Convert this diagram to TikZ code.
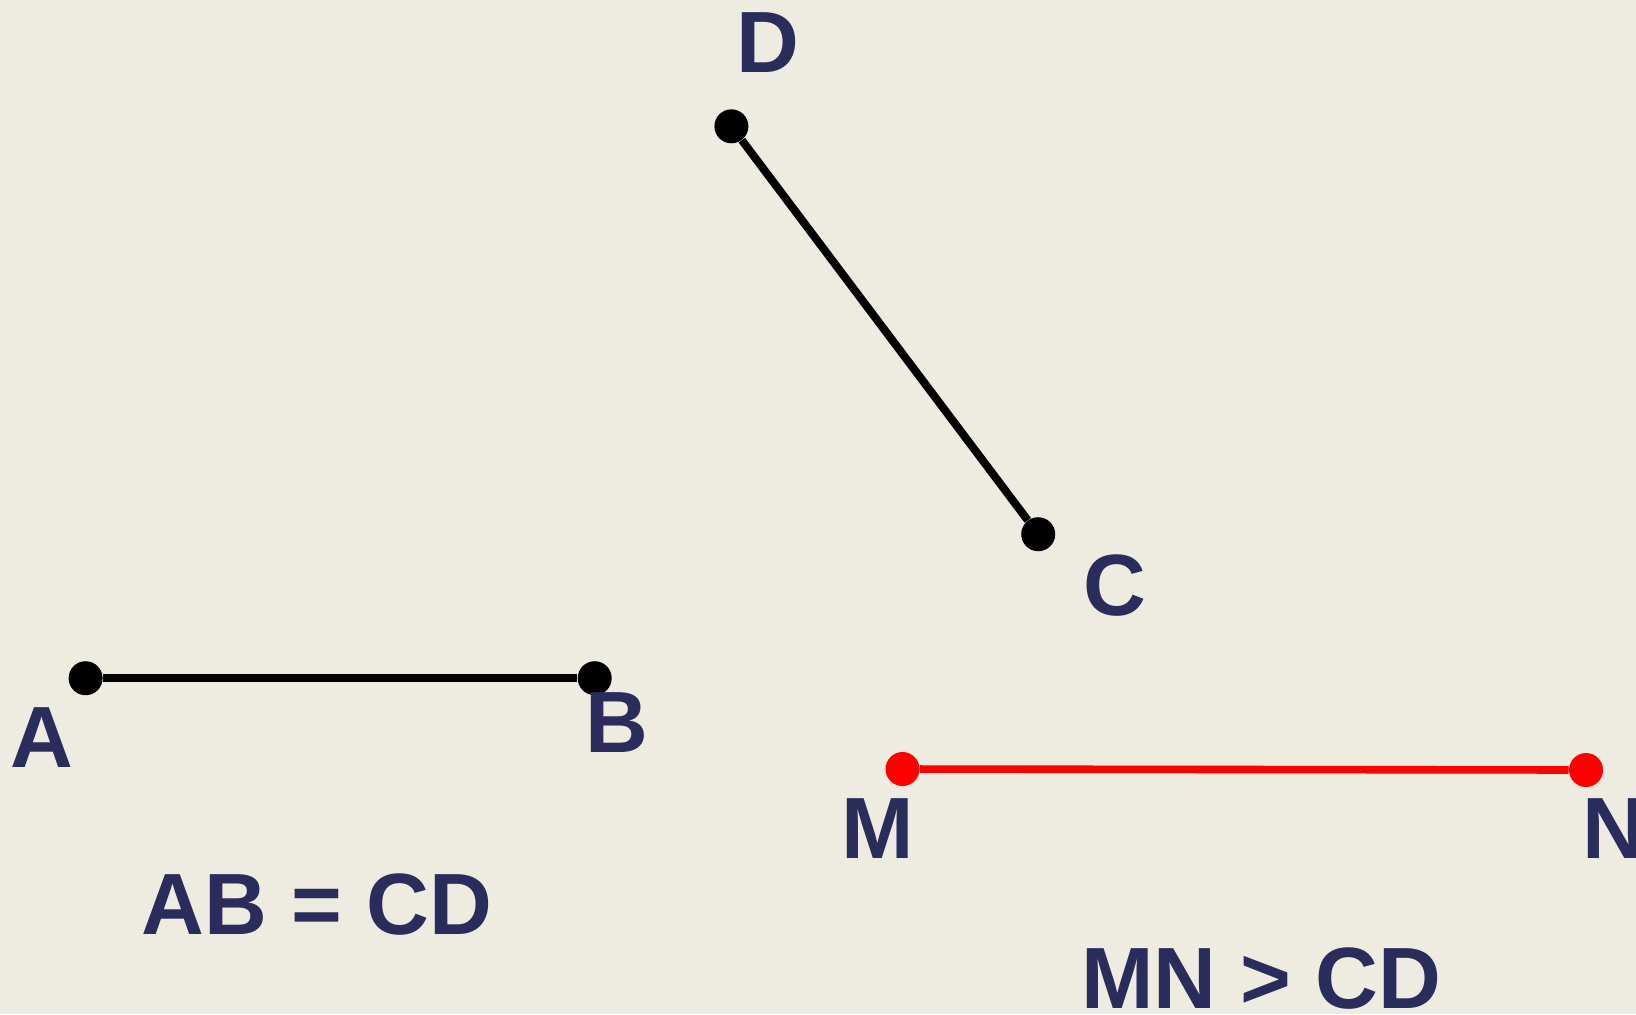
\documentclass[tikz,border=0pt]{standalone}
\usepackage{fontspec}
\setmainfont{Liberation Sans}
\definecolor{bg}{RGB}{238,236,225}
\definecolor{ink}{RGB}{42,45,92}
\definecolor{ptred}{RGB}{255,0,0}
\begin{document}
\begin{tikzpicture}[x=0.5pt,y=-0.5pt,
  pt/.style={circle,fill=black,inner sep=0pt,minimum size=17pt},
  redpt/.style={pt,fill=ptred},
  seg/.style={line width=4pt,black},
  redseg/.style={seg,line width=3.8pt,ptred},
  lbl/.style={inner sep=0pt,text=ink,font=\fontsize{43.5}{50}\selectfont\bfseries}]
\fill[bg] (0,0) rectangle (1636,1014);
\useasboundingbox (0,0) rectangle (1636,1014);
\clip (0,0) rectangle (1636,1014);
\node[pt] (A) at (85.6,678.2) {};
\node[pt] (B) at (594.7,678.2) {};
\node[pt] (D) at (731.4,126.3) {};
\node[pt] (C) at (1038.2,534.2) {};
\node[redpt] (M) at (902.5,769.0) {};
\node[redpt] (N) at (1586,770.0) {};
\draw[seg] (A) -- (B);
\draw[seg] (D) -- (C);
\draw[redseg] (M) -- (N);
\node[lbl] (lA) at (41.7,737.7) {A};
\node[lbl] (lB) at (616.6,722.5) {B};
\node[lbl] (lD) at (768,42.8) {D};
\node[lbl] (lC) at (1114.9,585.9) {C};
\node[lbl] (lM) at (877.5,828.5) {M};
\node[lbl,anchor=west] (lN) at (1582,828.5) {N};
\node[lbl] (eq) at (316.7,904.1) {AB = CD};
\node[lbl] (gt) at (1261.5,978.5) {MN > CD};
\end{tikzpicture}
\end{document}
